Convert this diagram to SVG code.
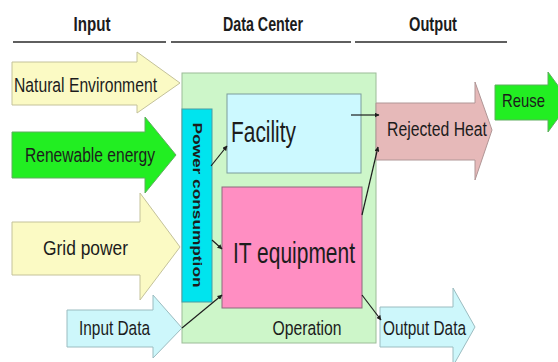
<svg xmlns="http://www.w3.org/2000/svg" width="558" height="362" viewBox="0 0 558 362">
  <style>
    .t { font-family: "Liberation Sans", Arial, sans-serif; fill: #1c1c1c; }
    .hd { font-size: 20px; font-weight: bold; }
    .lb { font-size: 20.5px; }
    .big { font-size: 29px; }
    .arrow { stroke-width: 1; stroke-linejoin: miter; }
    .conn { stroke: #1e1e1e; stroke-width: 1.2; fill: none; marker-end: url(#ah); }
  </style>
  <defs>
    <marker id="ah" viewBox="0 0 10 10" refX="9" refY="5" markerWidth="5" markerHeight="5" orient="auto" markerUnits="userSpaceOnUse">
      <path d="M0,0 L10,5 L0,10 Z" fill="#1e1e1e"/>
    </marker>
  </defs>
  <rect width="558" height="362" fill="#ffffff"/>

  <!-- column headers -->
  <g id="headers">
    <text class="t hd" x="92" y="31" text-anchor="middle" textLength="37" lengthAdjust="spacingAndGlyphs">Input</text>
    <text class="t hd" x="263" y="31" text-anchor="middle" textLength="80" lengthAdjust="spacingAndGlyphs">Data Center</text>
    <text class="t hd" x="433" y="31" text-anchor="middle" textLength="48" lengthAdjust="spacingAndGlyphs">Output</text>
    <g stroke="#2a2a2a" stroke-width="1.6">
      <line x1="13" y1="42" x2="166" y2="42"/>
      <line x1="171" y1="42" x2="351" y2="42"/>
      <line x1="355" y1="42" x2="507" y2="42"/>
    </g>
  </g>

  <!-- input arrows -->
  <g id="natural-environment">
    <polygon class="arrow" points="12,62 137,62 137,52 180,83 137,113 137,105 12,105" fill="#fbfac4" stroke="#c4c29a"/>
    <text class="t lb" x="14" y="92" textLength="143" lengthAdjust="spacingAndGlyphs">Natural Environment</text>
  </g>
  <g id="renewable-energy">
    <polygon class="arrow" points="12,132 145,132 145,117 176,155 145,193 145,178 12,178" fill="#22ee22" stroke="#5fae5f"/>
    <text class="t lb" x="25" y="162" textLength="130" lengthAdjust="spacingAndGlyphs">Renewable energy</text>
  </g>
  <g id="grid-power">
    <polygon class="arrow" points="12,222 140,222 140,193 180,247 140,300 140,275 12,275" fill="#fbfac4" stroke="#c4c29a"/>
    <text class="t lb" x="43" y="255" textLength="85" lengthAdjust="spacingAndGlyphs">Grid power</text>
  </g>
  <g id="input-data">
    <polygon class="arrow" points="67,310 153,310 153,295 182,328 153,358 153,347 67,347" fill="#cdf7fb" stroke="#9bbcc0"/>
    <text class="t lb" x="79" y="335" textLength="71" lengthAdjust="spacingAndGlyphs">Input Data</text>
  </g>

  <!-- data center -->
  <g id="data-center">
    <rect x="182" y="73" width="194" height="270" fill="#cdf6c9" stroke="#9cbc98" stroke-width="1"/>
    <text class="t lb" x="307" y="335" text-anchor="middle" textLength="69" lengthAdjust="spacingAndGlyphs">Operation</text>
  </g>
  <g id="power-consumption">
    <rect x="182" y="109" width="30" height="193" fill="#00e4ee" stroke="#4a9aa2" stroke-width="1"/>
    <text class="t" font-size="13" font-weight="bold" transform="translate(192.5,205) rotate(90)" text-anchor="middle" textLength="165" lengthAdjust="spacingAndGlyphs">Power consumption</text>
  </g>
  <g id="facility">
    <rect x="227" y="94" width="134" height="79" fill="#ccf9ff" stroke="#7c9c9c" stroke-width="1"/>
    <text class="t big" x="231" y="142" textLength="65" lengthAdjust="spacingAndGlyphs">Facility</text>
  </g>
  <g id="it-equipment">
    <rect x="222" y="187" width="140" height="121" fill="#ff8ec2" stroke="#8c6a7c" stroke-width="1"/>
    <text class="t big" x="233" y="263" fill="#3a1430" textLength="122" lengthAdjust="spacingAndGlyphs">IT equipment</text>
  </g>

  <!-- output arrows -->
  <g id="rejected-heat">
    <polygon class="arrow" points="376,103 475,103 475,82 492,130 475,180 475,160 376,160" fill="#e6b9b9" stroke="#b09696"/>
    <text class="t lb" x="387" y="136" textLength="100" lengthAdjust="spacingAndGlyphs">Rejected Heat</text>
  </g>
  <g id="reuse">
    <polygon class="arrow" points="495,85 548,85 548,72 570,102 548,132 548,120 495,120" fill="#22ee22" stroke="#5fae5f"/>
    <text class="t" font-size="18.5" x="502" y="107" textLength="43" lengthAdjust="spacingAndGlyphs">Reuse</text>
  </g>
  <g id="output-data">
    <polygon class="arrow" points="380,307 453,307 453,288 475,327 453,366 453,347 380,347" fill="#cdf7fb" stroke="#9bbcc0"/>
    <text class="t lb" x="383" y="335" textLength="83" lengthAdjust="spacingAndGlyphs">Output Data</text>
  </g>

  <!-- flows between parts -->
  <g id="connectors">
    <line class="conn" x1="351" y1="115" x2="379" y2="115"/>
    <line class="conn" x1="211" y1="166" x2="227" y2="146"/>
    <line class="conn" x1="212" y1="240" x2="222" y2="249"/>
    <line class="conn" x1="182" y1="328" x2="222" y2="295"/>
    <line class="conn" x1="362" y1="215" x2="378" y2="147"/>
    <line class="conn" x1="362" y1="295" x2="381" y2="320"/>
  </g>
</svg>
